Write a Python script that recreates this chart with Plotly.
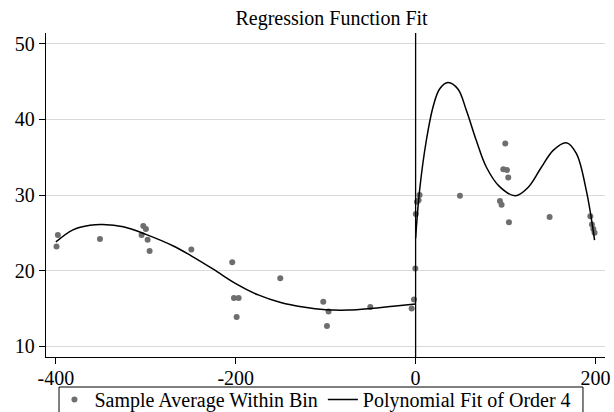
import plotly.graph_objects as go

# Bin averages on each side of the cutoff
bin_x_left = [-399.3, -397.8, -351.0, -304.7, -302.8, -299.9, -298.0, -295.8, -249.4,
              -203.9, -202.0, -199.0, -196.8, -150.5, -102.7, -98.6, -96.8, -50.4,
              -4.4, -1.8, -0.3]
bin_y_left = [23.2, 24.7, 24.2, 24.7, 25.9, 25.5, 24.1, 22.6, 22.8,
              21.1, 16.4, 13.9, 16.4, 19.0, 15.9, 12.7, 14.6, 15.2,
              15.0, 16.2, 20.3]
bin_x_right = [0.2, 1.5, 3.3, 4.4, 49.3, 93.8, 95.6, 97.5, 99.7, 101.6, 103.0, 103.8,
               149.0, 194.3, 196.1, 197.6, 199.0]
bin_y_right = [27.5, 29.1, 29.3, 30.0, 29.9, 29.2, 28.7, 33.4, 36.8, 33.3, 32.3, 26.4,
               27.1, 27.2, 26.1, 25.5, 25.0]

# Fitted polynomial, evaluated on each side
fit_x_left = [-400, -381, -362, -348, -325, -300, -270, -250, -225, -200, -175, -150,
              -125, -100, -75, -50, -25, 0]
fit_y_left = [23.8, 25.4, 26.0, 26.1, 25.8, 24.8, 23.3, 22.0, 20.2, 18.3, 16.8, 15.8,
              15.2, 14.85, 14.8, 15.0, 15.3, 15.6]
fit_x_right = [0, 4.4, 11.9, 19.3, 26.7, 36, 47, 56.4, 67.5, 78.6, 93.4, 111, 125,
               139, 153, 167.5, 178.7, 189.8, 199]
fit_y_right = [24.3, 30.6, 37.2, 41.6, 44.0, 44.85, 44.0, 41.2, 37.2, 33.7, 31.1, 29.9, 31.0,
               33.5, 35.9, 36.9, 35.5, 30.6, 24.05]

CUTOFF = 0
x_ticks = [-400, -200, 0, 200]
x_tick_labels = ["-400", "-200", "0", "200"]
y_ticks = [10, 20, 30, 40, 50]

SERIF = "Liberation Serif, Times New Roman, serif"
DOT = "#6e6e6e"

fig = go.Figure()
fig.add_trace(go.Scatter(
    x=bin_x_left + bin_x_right, y=bin_y_left + bin_y_right,
    mode="markers", marker=dict(color=DOT, size=6),
    name="Sample Average Within Bin"))
fig.add_trace(go.Scatter(
    x=fit_x_left, y=fit_y_left, mode="lines", line=dict(color="black", width=1.5, shape="spline"),
    name="Polynomial Fit of Order 4"))
fig.add_trace(go.Scatter(
    x=fit_x_right, y=fit_y_right, mode="lines", line=dict(color="black", width=1.5, shape="spline"),
    name="Polynomial Fit of Order 4", showlegend=False))

# cutoff line
fig.add_shape(type="line", x0=CUTOFF, x1=CUTOFF, xref="x", y0=0, y1=1, yref="paper",
              line=dict(color="black", width=1.3))
# legend frame
fig.add_shape(type="rect", xref="paper", yref="paper", x0=0.0233, x1=0.9606,
              y0=-0.30, y1=-0.0926, line=dict(color="black", width=1), fillcolor="white",
              layer="below")

fig.update_layout(
    width=614, height=412,
    margin=dict(l=46, r=9, t=33, b=55, autoexpand=False),
    paper_bgcolor="white", plot_bgcolor="white",
    font=dict(family=SERIF, size=20, color="black"),
    title=dict(text="Regression Function Fit", x=0.54, xref="container", xanchor="center",
               y=1 - 18 / 412, yref="container", yanchor="middle",
               font=dict(family=SERIF, size=20, color="black")),
    showlegend=True,
    legend=dict(orientation="h", x=0.482, xanchor="center", y=-0.071, yanchor="top",
                borderwidth=0, bgcolor="rgba(0,0,0,0)",
                font=dict(family=SERIF, size=20, color="black")),
    xaxis=dict(range=[-411, 210.6], tickvals=x_ticks, ticktext=x_tick_labels,
               ticks="outside", ticklen=6, ticklabelstandoff=-3,
               tickcolor="black", showline=True, linecolor="black", linewidth=1.3,
               showgrid=False, zeroline=False),
    yaxis=dict(range=[8.6, 51.4], tickvals=y_ticks, ticks="outside", ticklen=6,
               tickcolor="black", showline=True, linecolor="black", linewidth=1.3,
               showgrid=True, gridcolor="#d9d9d9", gridwidth=1, zeroline=False),
)

fig.write_html("out.html")
